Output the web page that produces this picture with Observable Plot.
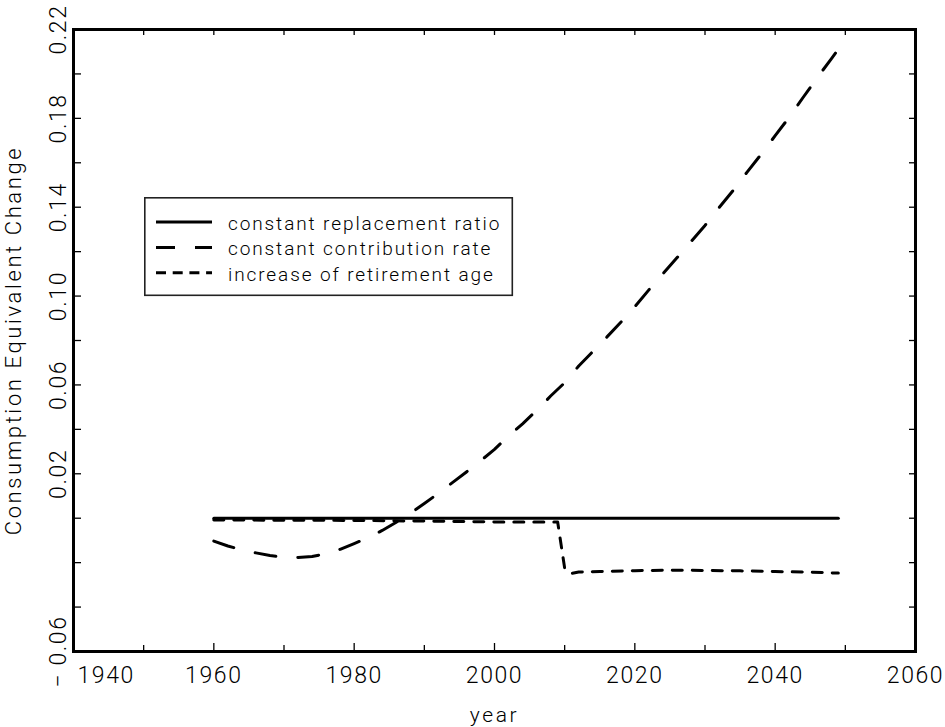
<!DOCTYPE html>
<html><head><meta charset="utf-8">
<script src="https://cdn.jsdelivr.net/npm/d3@7"></script>
<script src="https://cdn.jsdelivr.net/npm/@observablehq/plot@0.6"></script>
<style>
html,body{margin:0;padding:0;background:#fff;}
#wrap{position:relative;width:945px;height:727px;}
#legend{position:absolute;left:144px;top:197px;}
</style></head><body><div id="wrap"></div>
<script>
// ---- data ----
const seriesNames = ["constant replacement ratio", "constant contribution rate", "increase of retirement age"];

const crrYears = [1960, 2049];
const crrValues = [0, 0];

const ccrYears = [1960,1962,1964,1966,1968,1970,1972,1974,1976,1978,1980,1982,1984,1986,1988,1990,1992,1994,1996,1998,2000,2002,2004,2006,2008,2010,2012,2014,2016,2018,2020,2022,2024,2026,2028,2030,2032,2034,2036,2038,2040,2042,2044,2046,2048,2049];
const ccrValues = [-0.0103,-0.0125,-0.0143,-0.0156,-0.0168,-0.0176,-0.0177,-0.0172,-0.0160,-0.0140,-0.0114,-0.0088,-0.0055,-0.0018,0.0022,0.0066,0.0112,0.0160,0.0208,0.0258,0.0310,0.0370,0.0425,0.0485,0.0550,0.0610,0.0685,0.0750,0.0815,0.0882,0.0952,0.1028,0.1100,0.1172,0.1245,0.1318,0.1398,0.1475,0.1558,0.1638,0.1722,0.1805,0.1895,0.1983,0.2068,0.2111];

const iraYears = [1960,1970,1980,1990,2000,2005,2009,2010,2011,2012,2015,2020,2025,2030,2035,2040,2045,2049];
const iraValues = [-0.0008,-0.0009,-0.0010,-0.0013,-0.0017,-0.0017,-0.0017,-0.0225,-0.0248,-0.0242,-0.0240,-0.0236,-0.0234,-0.0235,-0.0237,-0.0240,-0.0243,-0.0247];

const xMajorTicks = [1940,1960,1980,2000,2020,2040,2060];
const xMinorTicks = [1950,1970,1990,2010,2030,2050];
const yTicks = [-0.04,-0.02,0,0.02,0.04,0.06,0.08,0.10,0.12,0.14,0.16,0.18,0.20];
const yLabelValues = [0.22,0.18,0.14,0.10,0.06,0.02,-0.06];
const yLabelTexts = ["0.22","0.18","0.14","0.10","0.06","0.02","\u2212 0.06"];
const xLabelValues = [1960,1980,2000,2020,2040,2060];
const xFirstLabel = [1940];

const dashes = [null, "21,22", "10,10"];
const legendDashes = [null, "19,20", "10,6.7"];

// ---- build ----
const W = 945, H = 727, mL = 73, mR = 30, mT = 29, mB = 76;
const innerW = W - mL - mR, innerH = H - mT - mB;

const rows = (ys, vs, s) => ys.map((y, i) => ({year: y, value: vs[i], series: s}));
const crr = rows(crrYears, crrValues, seriesNames[0]);
const ccr = rows(ccrYears, ccrValues, seriesNames[1]);
const ira = rows(iraYears, iraValues, seriesNames[2]);

const font = "Roboto, 'Liberation Sans', sans-serif";

const plot = Plot.plot({
  width: W, height: H,
  marginLeft: mL, marginRight: mR, marginTop: mT, marginBottom: mB,
  x: {domain: [1940, 2060], axis: null},
  y: {domain: [-0.06, 0.22], axis: null},
  style: {fontFamily: font, background: "#fff", color: "#000"},
  marks: [
    Plot.line(crr, {x: "year", y: "value", stroke: "#000", strokeWidth: 3}),
    Plot.line(ccr, {x: "year", y: "value", stroke: "#000", strokeWidth: 3, strokeDasharray: dashes[1]}),
    Plot.line(ira, {x: "year", y: "value", stroke: "#000", strokeWidth: 3, strokeDasharray: dashes[2]}),
    // ticks bottom/top
    Plot.tickX(xMajorTicks, {x: d => d, insetTop: innerH - 8, stroke: "#000", strokeWidth: 1.3}),
    Plot.tickX(xMinorTicks, {x: d => d, insetTop: innerH - 6, stroke: "#000", strokeWidth: 1.3}),
    Plot.tickX(xMajorTicks.concat(xMinorTicks), {x: d => d, insetBottom: innerH - 6, stroke: "#000", strokeWidth: 1.3}),
    // ticks left/right
    Plot.tickY(yTicks, {y: d => d, insetRight: innerW - 8, stroke: "#000", strokeWidth: 1.3}),
    Plot.tickY(yTicks, {y: d => d, insetLeft: innerW - 6, stroke: "#000", strokeWidth: 1.3}),
    Plot.frame({stroke: "#000", strokeWidth: 3}),
    // tick labels
    Plot.text(yLabelValues, {y: d => d, text: (d, i) => yLabelTexts[i], frameAnchor: "left", rotate: -90, dx: -8, lineAnchor: "bottom", textAnchor: "middle", fontSize: 23, fontWeight: 300, fill: "#000"}),
    Plot.text(xLabelValues, {x: d => d, text: d => String(d), frameAnchor: "bottom", lineAnchor: "top", dy: 15, fontSize: 23, fontWeight: 300, fill: "#000"}),
    Plot.text(xFirstLabel, {x: d => d, text: d => String(d), frameAnchor: "bottom", lineAnchor: "top", textAnchor: "start", dx: 4, dy: 15, fontSize: 23, fontWeight: 300, fill: "#000"}),
    // axis titles
    Plot.text(["year"], {text: d => d, frameAnchor: "bottom", lineAnchor: "top", textAnchor: "middle", dy: 56, fontSize: 21, fontWeight: 300, fill: "#000"}),
    Plot.text(["Consumption Equivalent Change"], {text: d => d, frameAnchor: "left", rotate: -90, lineAnchor: "top", textAnchor: "middle", dx: -68, fontSize: 22, fontWeight: 300, fill: "#000"})
  ]
});

d3.select(plot).selectAll("text").each(function() {
  const t = this.textContent;
  if (t === "year" || t === "Consumption Equivalent Change") this.style.letterSpacing = "2.6px";
  else this.style.letterSpacing = "1.6px";
});

const wrap = document.getElementById("wrap");
wrap.appendChild(plot);

// legend
const lg = d3.select(wrap).append("svg").attr("id", "legend").attr("width", 370).attr("height", 100);
lg.append("rect").attr("x", 0.8).attr("y", 0.8).attr("width", 367.5).attr("height", 97.5)
  .attr("fill", "#fff").attr("stroke", "#222").attr("stroke-width", 1.6);
seriesNames.forEach((name, i) => {
  const cy = 25 + i * 25.4;
  lg.append("line").attr("x1", 12).attr("x2", 68).attr("y1", cy).attr("y2", cy)
    .attr("stroke", "#000").attr("stroke-width", 3)
    .attr("stroke-dasharray", legendDashes[i]);
  lg.append("text").attr("x", 84).attr("y", cy + 7.7)
    .attr("font-family", font).attr("font-size", 19).attr("font-weight", 300)
    .style("letter-spacing", "1.9px").attr("fill", "#000").text(name);
});
</script></body></html>
